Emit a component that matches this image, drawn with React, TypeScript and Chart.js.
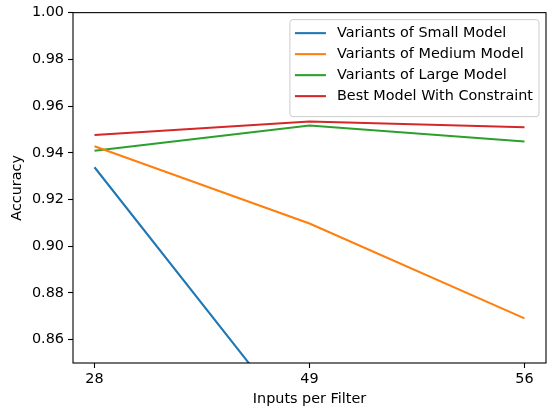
import React, { useEffect, useRef } from "react";
import { Chart, registerables } from "chart.js";

Chart.register(...registerables);

const xLabels = ["28", "49", "56"];
const seriesNames = [
  "Variants of Small Model",
  "Variants of Medium Model",
  "Variants of Large Model",
  "Best Model With Constraint",
];
const smallModel = [0.9338, 0.817, 0.8];
const mediumModel = [0.9428, 0.9097, 0.8691];
const largeModel = [0.9409, 0.9517, 0.9448];
const bestModel = [0.9476, 0.9534, 0.9509];
const yTicks = [0.86, 0.88, 0.9, 0.92, 0.94, 0.96, 0.98, 1.0];
const colors = ["#1f77b4", "#ff7f0e", "#2ca02c", "#d62728"];

const FONT = "DejaVu Sans";
const FS = 14.4;

const framePlugin = {
  id: "frame",
  afterDatasetsDraw(chart: any) {
    const { ctx, chartArea: a } = chart;
    ctx.save();
    ctx.strokeStyle = "#000";
    ctx.lineWidth = 1.1;
    ctx.strokeRect(a.left, a.top, a.right - a.left, a.bottom - a.top);
    ctx.restore();
  },
};

const legendPlugin = {
  id: "mplLegend",
  afterDraw(chart: any) {
    const { ctx, chartArea: a } = chart;
    const ds = chart.data.datasets;
    ctx.save();
    ctx.font = `${FS}px "${FONT}"`;
    let maxW = 0;
    ds.forEach((d: any) => {
      maxW = Math.max(maxW, ctx.measureText(d.label).width);
    });
    const right = a.right - 7;
    const top = a.top + 7;
    const w = 5 + 31 + 11 + maxW + 6;
    const rowH = 21;
    const h = 7 + rowH * ds.length + 6;
    const left = right - w;
    ctx.beginPath();
    ctx.roundRect(left, top, w, h, 3);
    ctx.fillStyle = "rgba(255,255,255,0.8)";
    ctx.fill();
    ctx.strokeStyle = "#cccccc";
    ctx.lineWidth = 1;
    ctx.stroke();
    ds.forEach((d: any, i: number) => {
      const y = top + 13.5 + i * rowH;
      ctx.beginPath();
      ctx.moveTo(left + 5, y);
      ctx.lineTo(left + 36, y);
      ctx.strokeStyle = d.borderColor;
      ctx.lineWidth = 2.08;
      ctx.stroke();
      ctx.fillStyle = "#000";
      ctx.textBaseline = "middle";
      ctx.textAlign = "left";
      ctx.fillText(d.label, left + 47, y + 0.5);
    });
    ctx.restore();
  },
};

export default function App() {
  const ref = useRef<HTMLCanvasElement>(null);
  useEffect(() => {
    document.body.style.margin = "0";
    const series = [smallModel, mediumModel, largeModel, bestModel];
    const chart = new Chart(ref.current!, {
      type: "line",
      data: {
        datasets: series.map((s, i) => ({
          label: seriesNames[i],
          data: s.map((v, j) => ({ x: j, y: v })),
          borderColor: colors[i],
          backgroundColor: colors[i],
          borderWidth: 2.08,
          pointRadius: 0,
          tension: 0,
          fill: false,
        })),
      },
      options: {
        responsive: false,
        animation: false,
        layout: { padding: { top: 11, right: 1, left: 0, bottom: 0 } },
        plugins: { legend: { display: false }, tooltip: { enabled: false } },
        scales: {
          x: {
            type: "linear",
            min: -0.1,
            max: 2.1,
            afterBuildTicks: (s: any) => {
              s.ticks = xLabels.map((_, i) => ({ value: i }));
            },
            afterFit: (s: any) => {
              s.height = 49;
            },
            ticks: {
              callback: (v: any) => xLabels[v],
              font: { family: FONT, size: FS },
              color: "#000",
              padding: 3,
              maxRotation: 0,
              autoSkip: false,
            },
            grid: {
              drawOnChartArea: false,
              drawTicks: true,
              tickLength: 5,
              color: "#000",
              tickWidth: 1.1,
            },
            border: { display: false },
            title: {
              display: true,
              text: "Inputs per Filter",
              font: { family: FONT, size: FS },
              color: "#000",
              padding: { top: 0, bottom: 4 },
            },
          },
          y: {
            type: "linear",
            min: 0.85,
            max: 1.0,
            afterBuildTicks: (s: any) => {
              s.ticks = yTicks.map((v) => ({ value: v }));
            },
            afterFit: (s: any) => {
              s.width = 73;
            },
            ticks: {
              callback: (v: any) => Number(v).toFixed(2),
              font: { family: FONT, size: FS },
              color: "#000",
              padding: 4,
            },
            grid: {
              drawOnChartArea: false,
              drawTicks: true,
              tickLength: 5,
              color: "#000",
              tickWidth: 1.1,
            },
            border: { display: false },
            title: {
              display: true,
              text: "Accuracy",
              font: { family: FONT, size: FS },
              color: "#000",
              padding: { top: 9, bottom: 0 },
            },
          },
        },
      },
      plugins: [framePlugin, legendPlugin],
    });
    return () => chart.destroy();
  }, []);
  return (
    <div style={{ width: 547, height: 412 }}>
      <canvas ref={ref} width={547} height={412} />
    </div>
  );
}
